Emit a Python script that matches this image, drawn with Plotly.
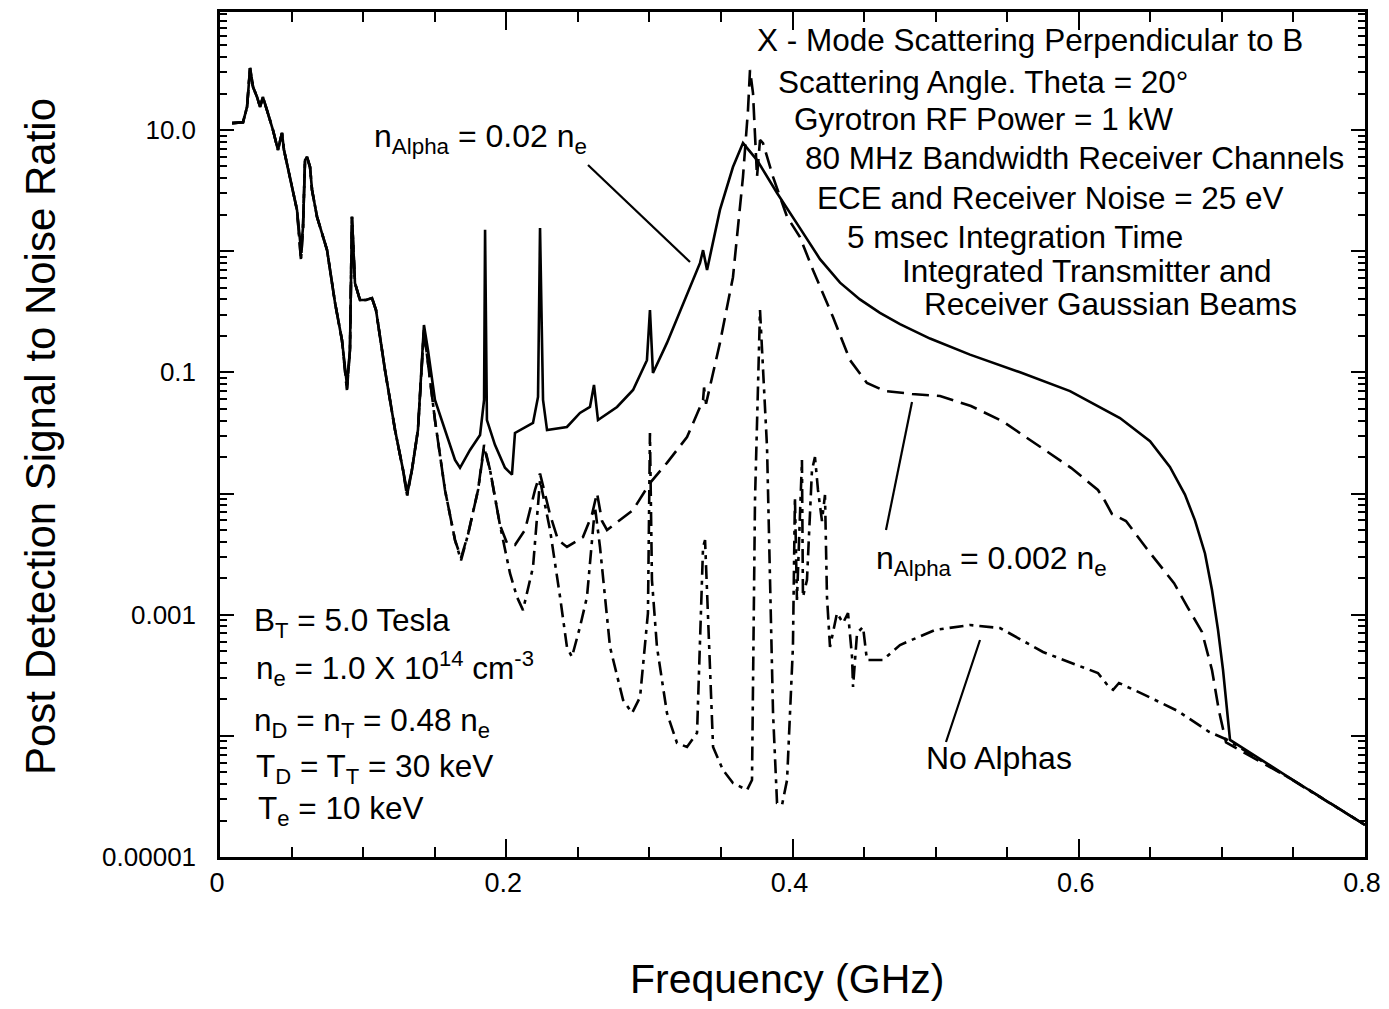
import plotly.graph_objects as go

# ---------------- data (frequency in GHz, post-detection SNR) ----------------
f_alpha02 = [0.0084, 0.0161, 0.0189, 0.021, 0.0231, 0.0259, 0.028, 0.030, 0.0328, 0.037,
             0.0405, 0.0433, 0.0447, 0.0489, 0.0538, 0.0566, 0.058, 0.0594, 0.0608, 0.0629,
             0.0643, 0.0678, 0.0748, 0.0804, 0.0852, 0.0887, 0.0908, 0.0922, 0.0943, 0.0978,
             0.102, 0.1062, 0.109, 0.1153, 0.1223, 0.1279, 0.1307, 0.1341, 0.1383, 0.1425,
             0.1453, 0.1502, 0.1572, 0.1642, 0.1677, 0.1747, 0.1817, 0.1845, 0.1852, 0.1865,
             0.1921, 0.1991, 0.204, 0.2061, 0.2187, 0.2222, 0.2236, 0.2257, 0.2285, 0.2424,
             0.2515, 0.2585, 0.2613, 0.2641, 0.2774, 0.2886, 0.2983, 0.3004, 0.3025, 0.3123,
             0.3354, 0.3375, 0.3403, 0.3493, 0.3584, 0.3654, 0.3752, 0.3892, 0.4052, 0.4192,
             0.4332, 0.4471, 0.4611, 0.4751, 0.4961, 0.5240, 0.5590, 0.5939, 0.6288, 0.6498,
             0.6637, 0.6742, 0.6812, 0.6882, 0.6931, 0.6973, 0.7008, 0.7036, 0.7057, 0.7497, 0.80]
snr_alpha02 = [11.4, 11.6, 15.5, 32.5, 22.6, 18.7, 15.5, 18.7, 14.6, 10.0,
               6.84, 9.45, 6.84, 4.1, 2.19, 1.02, 1.58, 5.65, 5.99, 4.95,
               3.2, 1.92, 1.02, 0.373, 0.185, 0.0787, 0.153, 1.92, 0.546, 0.395,
               0.395, 0.41, 0.327, 0.104, 0.0334, 0.0156, 0.0103, 0.0156, 0.0334, 0.246,
               0.153, 0.0591, 0.0334, 0.0189, 0.0163, 0.0229, 0.0304, 0.0591, 1.5, 0.0404,
               0.0252, 0.0163, 0.0143, 0.0316, 0.0382, 0.0626, 1.55, 0.0591, 0.0334, 0.0354,
               0.0462, 0.0518, 0.0787, 0.0404, 0.0518, 0.0715, 0.126, 0.327, 0.0988, 0.175,
               0.80, 1.02, 0.70, 2.19, 4.95, 7.8, 5.65, 3.02, 1.55, 0.86,
               0.55, 0.40, 0.31, 0.25, 0.19, 0.14, 0.10, 0.070, 0.042, 0.027,
               0.0166, 0.0098, 0.0060, 0.0032, 0.0016, 0.00075, 0.00035, 0.00017, 0.0000925, 0.0000432, 0.0000184]

f_alpha002 = [0.0084, 0.0161, 0.0189, 0.021, 0.0231, 0.0259, 0.028, 0.030, 0.0328, 0.037,
              0.0405, 0.0433, 0.0447, 0.0489, 0.0538, 0.0566, 0.058, 0.0594, 0.0608, 0.0629,
              0.0643, 0.0678, 0.0748, 0.0804, 0.0852, 0.0887, 0.0908, 0.0922, 0.0943, 0.0978,
              0.102, 0.1062, 0.109, 0.1153, 0.1223, 0.1279, 0.1307, 0.1341, 0.1383, 0.1425,
              0.1502, 0.1572, 0.1642, 0.1684, 0.1733, 0.1803, 0.1845, 0.1887, 0.1956, 0.2005,
              0.2061, 0.2131, 0.2201, 0.2236, 0.2306, 0.2362, 0.2424, 0.2536, 0.2599, 0.2634,
              0.2669, 0.2704, 0.2886, 0.3004, 0.3123, 0.3263, 0.3375, 0.3382, 0.3396, 0.3493,
              0.3584, 0.3654, 0.3689, 0.3703, 0.3724, 0.3752, 0.3773, 0.3794, 0.3864, 0.3962,
              0.4052, 0.4143, 0.4283, 0.4402, 0.452, 0.4646, 0.4835, 0.5031, 0.5247, 0.5464,
              0.5701, 0.5946, 0.6134, 0.6183, 0.6232, 0.633, 0.6477, 0.6666, 0.6763, 0.6861,
              0.6931, 0.698, 0.7029, 0.7497, 0.80]
snr_alpha002 = [11.4, 11.6, 15.5, 32.5, 22.6, 18.7, 15.5, 18.7, 14.6, 10.0,
                6.84, 9.45, 6.84, 4.1, 2.19, 0.845, 1.58, 5.65, 5.99, 4.95,
                3.2, 1.92, 1.02, 0.373, 0.185, 0.0715, 0.153, 1.92, 0.546, 0.395,
                0.395, 0.41, 0.327, 0.104, 0.0334, 0.0156, 0.0097, 0.0156, 0.0334, 0.223,
                0.0404, 0.0107, 0.00413, 0.00294, 0.0046, 0.0107, 0.0252, 0.0156, 0.0055, 0.0039,
                0.00376, 0.005, 0.0107, 0.0146, 0.0067, 0.00413, 0.00362, 0.00437, 0.0067, 0.0101,
                0.00593, 0.005, 0.00731, 0.0122, 0.0179, 0.0292, 0.0591, 0.075, 0.055, 0.175,
                0.61, 4.1, 14.6, 31.3, 20.2, 4.1, 8.27, 7.8, 4.1, 1.92,
                1.31, 0.70, 0.286, 0.126, 0.0817, 0.0702, 0.0663, 0.0638, 0.0527, 0.0397,
                0.0256, 0.0163, 0.0107, 0.00867, 0.00678, 0.00593, 0.00348, 0.00182, 0.00114, 0.00072,
                0.000349, 0.00016, 0.0000883, 0.0000432, 0.0000184]

f_noalpha = [0.0084, 0.0161, 0.0189, 0.021, 0.0231, 0.0259, 0.028, 0.030, 0.0328, 0.037,
             0.0405, 0.0433, 0.0447, 0.0489, 0.0538, 0.0566, 0.058, 0.0594, 0.0608, 0.0629,
             0.0643, 0.0678, 0.0748, 0.0804, 0.0852, 0.0887, 0.0908, 0.0922, 0.0943, 0.0978,
             0.102, 0.1062, 0.109, 0.1153, 0.1223, 0.1279, 0.1307, 0.1341, 0.1383, 0.1425,
             0.1502, 0.1572, 0.1642, 0.1684, 0.1733, 0.1803, 0.1845, 0.1887, 0.1956, 0.2026,
             0.2075, 0.2117, 0.2187, 0.2236, 0.2306, 0.2376, 0.2424, 0.2459, 0.2515, 0.2564,
             0.262, 0.2655, 0.2725, 0.2816, 0.2879, 0.2935, 0.299, 0.3004, 0.3018, 0.3053,
             0.3123, 0.3193, 0.3263, 0.3333, 0.3375, 0.3389, 0.3403, 0.3445, 0.3514, 0.3584,
             0.3682, 0.3717, 0.3738, 0.3773, 0.3822, 0.3843, 0.3864, 0.3892, 0.3927, 0.3962,
             0.3983, 0.4003, 0.4017, 0.4031, 0.4066, 0.4073, 0.4101, 0.4136, 0.4157, 0.4178,
             0.4206, 0.4227, 0.4241, 0.4262, 0.4311, 0.4353, 0.4388, 0.4416, 0.4423, 0.4451,
             0.4493, 0.452, 0.4632, 0.4751, 0.4996, 0.524, 0.545, 0.575, 0.5967, 0.6134,
             0.6211, 0.624, 0.6281, 0.6449, 0.6693, 0.691, 0.704, 0.7497, 0.80]
snr_noalpha = [11.4, 11.6, 15.5, 32.5, 22.6, 18.7, 15.5, 18.7, 14.6, 10.0,
               6.84, 9.45, 6.84, 4.1, 2.19, 0.845, 1.58, 5.65, 5.99, 4.95,
               3.2, 1.92, 1.02, 0.373, 0.185, 0.0715, 0.153, 1.92, 0.546, 0.395,
               0.395, 0.41, 0.327, 0.104, 0.0334, 0.0156, 0.0095, 0.0156, 0.0334, 0.223,
               0.0404, 0.0107, 0.00413, 0.0028, 0.0046, 0.0107, 0.024, 0.0156, 0.0055, 0.0022,
               0.0014, 0.00109, 0.00247, 0.0129, 0.005, 0.0014, 0.000541, 0.000448, 0.000791, 0.0014,
               0.00774, 0.00362, 0.000541, 0.000198, 0.000154, 0.000209, 0.00103, 0.0316, 0.00193, 0.000541,
               0.000154, 0.0000873, 0.0000809, 0.000106, 0.00362, 0.00413, 0.0014, 0.0000809, 0.0000523, 0.0000408,
               0.0000357, 0.0000432, 0.00884, 0.327, 0.0242, 0.00193, 0.000154, 0.0000279, 0.0000269, 0.0000432,
               0.000154, 0.000541, 0.00935, 0.00132, 0.0189, 0.0014, 0.00193, 0.0156, 0.020, 0.0107,
               0.00593, 0.00972, 0.0014, 0.000541, 0.00103, 0.000854, 0.00103, 0.000448, 0.000253, 0.000706,
               0.000791, 0.000423, 0.000423, 0.000562, 0.000748, 0.000822, 0.000776, 0.000492, 0.000392, 0.00033,
               0.000253, 0.00024, 0.000273, 0.000221, 0.00016, 0.000108, 0.0000925, 0.0000432, 0.0000184]

x_tickvals = [0, 0.2, 0.4, 0.6, 0.8]
x_ticktext = ["0", "0.2", "0.4", "0.6", "0.8"]
y_tickvals = [1e-5, 1e-4, 1e-3, 1e-2, 1e-1, 1, 10]
y_ticktext = ["0.00001", "", "0.001", "", "0.1", "", "10.0"]

# ---------------- figure ----------------
SW, SH = 1389, 1009          # screenshot size
OFF = 8                      # page body margin
W, H = SW - 2 * OFF, SH - 2 * OFF
PL, PR, PT, PB = 220, 1365, 12, 857   # plot-area edges in screenshot pixels
L, R, T, B = PL - OFF, W - (PR - OFF), PT - OFF, H - (PB - OFF)
FONT = "Liberation Sans, Arial, Helvetica, sans-serif"


def P(x, y):
    """screenshot pixel position -> paper coordinates (annotation placement)"""
    return (x - PL) / (PR - PL), (PB - y) / (PB - PT)


fig = go.Figure()
line_w = 2.6
fig.add_trace(go.Scatter(x=f_alpha02, y=snr_alpha02, mode="lines",
                         line=dict(color="black", width=line_w), name="n_Alpha = 0.02 n_e"))
fig.add_trace(go.Scatter(x=f_alpha002, y=snr_alpha002, mode="lines",
                         line=dict(color="black", width=line_w, dash="17px,8px"),
                         name="n_Alpha = 0.002 n_e"))
fig.add_trace(go.Scatter(x=f_noalpha, y=snr_noalpha, mode="lines",
                         line=dict(color="black", width=line_w, dash="14px,6px,4px,6px"),
                         name="No Alphas"))

annotations = []


def txt(s, x, y, size=31.5, anchor="left", angle=0):
    px_, py_ = P(x, y)
    annotations.append(dict(text=s, x=px_, y=py_, xref="paper", yref="paper",
                            xanchor=anchor, yanchor="middle", showarrow=False,
                            textangle=angle,
                            font=dict(family=FONT, size=size, color="black")))


top_lines = [
    ("X - Mode Scattering Perpendicular to B", 755, 40),
    ("Scattering Angle. Theta = 20°", 776, 82),
    ("Gyrotron RF Power = 1 kW", 792, 119),
    ("80 MHz Bandwidth Receiver Channels", 803, 158),
    ("ECE and Receiver Noise = 25 eV", 815, 198),
    ("5 msec Integration Time", 845, 237),
    ("Integrated Transmitter and", 900, 271),
    ("Receiver Gaussian Beams", 922, 304),
]
for s, x, y in top_lines:
    txt(s, x, y)

params = [
    ("B<sub>T</sub> = 5.0 Tesla", 252, 622),
    ("n<sub>e</sub> = 1.0 X 10<sup>14</sup> cm<sup>-3</sup>", 254, 668),
    ("n<sub>D</sub> = n<sub>T</sub> = 0.48 n<sub>e</sub>", 252, 722),
    ("T<sub>D</sub> = T<sub>T</sub> = 30 keV", 254, 768),
    ("T<sub>e</sub> = 10 keV", 256, 810),
]
for s, x, y in params:
    txt(s, x, y)

txt("n<sub>Alpha</sub> = 0.02 n<sub>e</sub>", 372, 138, size=32)
txt("n<sub>Alpha</sub> = 0.002 n<sub>e</sub>", 874, 560, size=32)
txt("No Alphas", 924, 758, size=32)

# axis titles placed as annotations for exact positioning
txt("Post Detection Signal to Noise Ratio", 40, 437, size=42, anchor="center", angle=-90)
txt("Frequency (GHz)", 787, 979, size=41, anchor="center")

shapes = []
for (x0, y0, x1, y1) in [(588, 165, 690, 262), (886, 530, 912, 402), (946, 742, 980, 640)]:
    a0, b0 = P(x0, y0)
    a1, b1 = P(x1, y1)
    shapes.append(dict(type="line", xref="paper", yref="paper", x0=a0, y0=b0, x1=a1, y1=b1,
                       line=dict(color="black", width=2.2)))

fig.update_layout(
    width=W, height=H,
    margin=dict(l=L, r=R, t=T, b=B, autoexpand=False),
    paper_bgcolor="white", plot_bgcolor="white",
    showlegend=False,
    annotations=annotations,
    shapes=shapes,
    font=dict(family=FONT, color="black"),
)
fig.update_xaxes(
    range=[0, 0.8], tickvals=x_tickvals, ticktext=x_ticktext,
    ticks="inside", ticklen=18, tickwidth=2, tickcolor="black",
    minor=dict(dtick=0.05, ticks="inside", ticklen=10, tickwidth=2, tickcolor="black"),
    showline=True, linewidth=2.5, linecolor="black", mirror="allticks",
    showgrid=False, zeroline=False, automargin=False,
    tickfont=dict(family=FONT, size=27, color="black"),
    ticklabelstandoff=0, ticklabeloverflow="allow", ticklabelshift=-3,
)
fig.update_yaxes(
    type="log", range=[-5, 1.974], tickvals=y_tickvals, ticktext=y_ticktext,
    ticks="inside", ticklen=14, tickwidth=2, tickcolor="black",
    minor=dict(dtick="D1", ticks="inside", ticklen=7, tickwidth=1.5, tickcolor="black"),
    showline=True, linewidth=2.5, linecolor="black", mirror="allticks",
    showgrid=False, zeroline=False, automargin=False,
    tickfont=dict(family=FONT, size=26, color="black"),
    ticklabelstandoff=16, ticklabeloverflow="allow",
)

fig.write_html("out.html")
